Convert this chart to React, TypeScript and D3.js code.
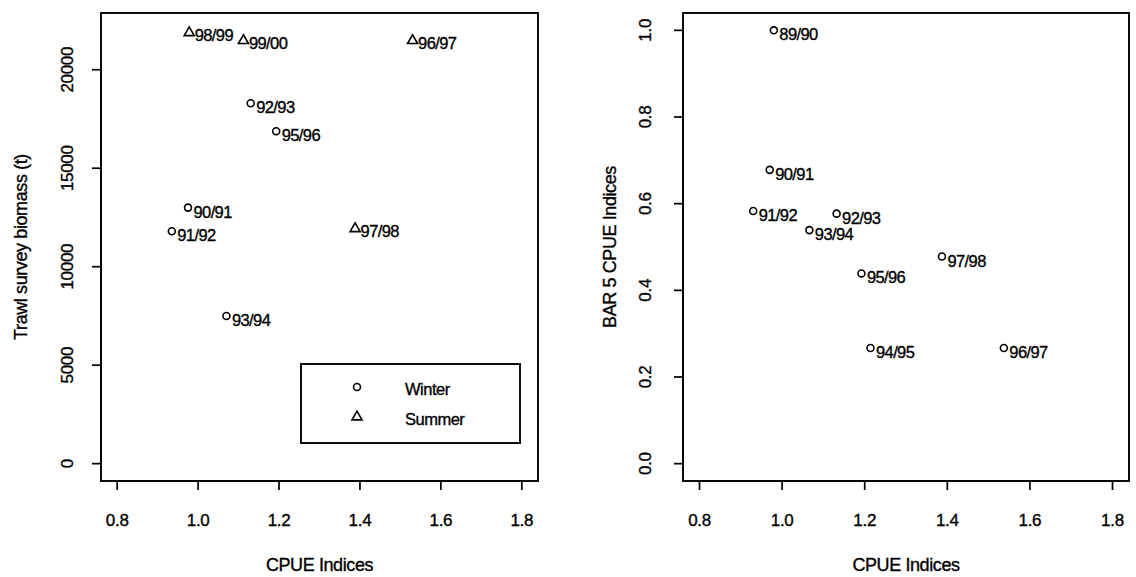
import React from "react";
import * as d3 from "d3";

// Trawl survey biomass vs CPUE (left panel)
const biomassLabels = ["90/91", "91/92", "92/93", "93/94", "95/96", "96/97", "97/98", "98/99", "99/00"];
const biomassCpue = [0.975, 0.935, 1.13, 1.07, 1.193, 1.53, 1.388, 0.978, 1.112];
const biomassTonnes = [13000, 11800, 18300, 7500, 16880, 21480, 11930, 21880, 21480];
const biomassSurvey = ["Winter", "Winter", "Winter", "Winter", "Winter", "Summer", "Summer", "Summer", "Summer"];

// BAR 5 CPUE indices vs CPUE (right panel)
const bar5Labels = ["89/90", "90/91", "91/92", "92/93", "93/94", "94/95", "95/96", "96/97", "97/98"];
const bar5Cpue = [0.98, 0.97, 0.93, 1.132, 1.066, 1.214, 1.192, 1.537, 1.387];
const bar5Index = [1.0, 0.678, 0.583, 0.577, 0.539, 0.267, 0.439, 0.267, 0.478];

const xTicks = [0.8, 1.0, 1.2, 1.4, 1.6, 1.8];
const biomassTicks = [0, 5000, 10000, 15000, 20000];
const bar5Ticks = [0, 0.2, 0.4, 0.6, 0.8, 1.0];
const legendItems = ["Winter", "Summer"];

const FONT = "'Liberation Sans', Arial, Helvetica, sans-serif";
// slightly heavy text, like the printed figure
const INK = { fill: "#000", stroke: "#000", strokeWidth: 0.35 };

// R-style padded limits (4% either side)
const pad = (lo: number, hi: number): [number, number] => {
  const d = (hi - lo) * 0.04;
  return [lo - d, hi + d];
};

type Box = { x0: number; x1: number; y0: number; y1: number };

const circlePath = d3.symbol(d3.symbolCircle, 38)()!;
const trianglePath = d3.symbol(d3.symbolTriangle, 44)()!;

function Marker({ kind, x, y }: { kind: string; x: number; y: number }) {
  return (
    <path
      d={kind === "Summer" ? trianglePath : circlePath}
      transform={`translate(${x},${y})`}
      fill="none"
      stroke="#000"
      strokeWidth={1.6}
    />
  );
}

function Panel({
  box,
  x,
  y,
  yTicks,
  yFormat,
  yTitle,
  yLabelX,
  yTitleX,
  labels,
  xs,
  ys,
  kinds,
  children,
}: {
  box: Box;
  x: d3.ScaleLinear<number, number>;
  y: d3.ScaleLinear<number, number>;
  yTicks: number[];
  yFormat: (v: number) => string;
  yTitle: string;
  yLabelX: number;
  yTitleX: number;
  labels: string[];
  xs: number[];
  ys: number[];
  kinds: string[];
  children?: React.ReactNode;
}) {
  const tick = 9;
  const xFmt = d3.format(".1f");
  const first = xTicks[0];
  const last = xTicks[xTicks.length - 1];
  return (
    <g>
      <rect
        x={box.x0}
        y={box.y0}
        width={box.x1 - box.x0}
        height={box.y1 - box.y0}
        fill="none"
        stroke="#000"
        strokeWidth={1.9}
      />
      {/* x axis */}
      <line x1={x(first)} x2={x(last)} y1={box.y1} y2={box.y1} stroke="#000" strokeWidth={1.6} />
      {xTicks.map((t) => (
        <g key={"xt" + t}>
          <line x1={x(t)} x2={x(t)} y1={box.y1} y2={box.y1 + tick} stroke="#000" strokeWidth={1.7} />
          <text
            x={x(t)}
            y={520}
            textAnchor="middle"
            dominantBaseline="central"
            fontFamily={FONT}
            fontSize={17}
            letterSpacing={-0.3}
            {...INK}
          >
            {xFmt(t)}
          </text>
        </g>
      ))}
      <text
        x={(box.x0 + box.x1) / 2}
        y={565}
        textAnchor="middle"
        dominantBaseline="central"
        fontFamily={FONT}
        fontSize={18}
        letterSpacing={-0.4}
        {...INK}
      >
        CPUE Indices
      </text>
      {/* y axis */}
      <line
        x1={box.x0}
        x2={box.x0}
        y1={y(yTicks[0])}
        y2={y(yTicks[yTicks.length - 1])}
        stroke="#000"
        strokeWidth={1.6}
      />
      {yTicks.map((t) => (
        <g key={"yt" + t}>
          <line x1={box.x0 - tick} x2={box.x0} y1={y(t)} y2={y(t)} stroke="#000" strokeWidth={1.7} />
          <text
            transform={`translate(${yLabelX},${y(t)}) rotate(-90)`}
            textAnchor="middle"
            dominantBaseline="central"
            fontFamily={FONT}
            fontSize={17}
            letterSpacing={-0.3}
            {...INK}
          >
            {yFormat(t)}
          </text>
        </g>
      ))}
      <text
        transform={`translate(${yTitleX},${(box.y0 + box.y1) / 2}) rotate(-90)`}
        textAnchor="middle"
        dominantBaseline="central"
        fontFamily={FONT}
        fontSize={18}
        letterSpacing={-0.4}
        {...INK}
      >
        {yTitle}
      </text>
      {/* points with season labels */}
      {labels.map((lab, i) => {
        const px = x(xs[i]);
        const py = y(ys[i]);
        const summer = kinds[i] === "Summer";
        return (
          <g key={lab + i}>
            <Marker kind={kinds[i]} x={px} y={py} />
            <text
              x={px + 5.5}
              y={py + (summer ? 2 : 4)}
              dominantBaseline="central"
              fontFamily={FONT}
              fontSize={16.5}
              letterSpacing={-0.6}
              {...INK}
            >
              {lab}
            </text>
          </g>
        );
      })}
      {children}
    </g>
  );
}

export default function App() {
  const leftBox: Box = { x0: 101, x1: 538, y0: 13, y1: 481 };
  const rightBox: Box = { x0: 683, x1: 1129, y0: 13, y1: 481 };

  const xLeft = d3.scaleLinear().domain(pad(0.8, 1.8)).range([leftBox.x0, leftBox.x1]);
  const yLeft = d3.scaleLinear().domain(pad(0, 22000)).range([leftBox.y1, leftBox.y0]);
  const xRight = d3.scaleLinear().domain(pad(0.8, 1.8)).range([rightBox.x0, rightBox.x1]);
  const yRight = d3.scaleLinear().domain(pad(0, 1)).range([rightBox.y1, rightBox.y0]);

  const legend = { x: 301, y: 364, w: 219, h: 79 };

  return (
    <svg
      width={1136}
      height={577}
      viewBox="0 0 1136 577"
      style={{ position: "absolute", left: 0, top: 0, display: "block", background: "#fff" }}
    >
      <rect x={0} y={0} width={1136} height={577} fill="#fff" />
      <Panel
        box={leftBox}
        x={xLeft}
        y={yLeft}
        yTicks={biomassTicks}
        yFormat={(v) => String(v)}
        yTitle="Trawl survey biomass (t)"
        yLabelX={67}
        yTitleX={21}
        labels={biomassLabels}
        xs={biomassCpue}
        ys={biomassTonnes}
        kinds={biomassSurvey}
      >
        <g>
          <rect
            x={legend.x}
            y={legend.y}
            width={legend.w}
            height={legend.h}
            fill="none"
            stroke="#000"
            strokeWidth={1.9}
          />
          {legendItems.map((name, i) => (
            <g key={name}>
              <Marker kind={name} x={legend.x + 56} y={legend.y + 23 + i * 30} />
              <text
                x={legend.x + 104}
                y={legend.y + 25 + i * 30}
                dominantBaseline="central"
                fontFamily={FONT}
                fontSize={16.5}
                letterSpacing={-0.5}
                {...INK}
              >
                {name}
              </text>
            </g>
          ))}
        </g>
      </Panel>
      <Panel
        box={rightBox}
        x={xRight}
        y={yRight}
        yTicks={bar5Ticks}
        yFormat={d3.format(".1f")}
        yTitle="BAR 5 CPUE Indices"
        yLabelX={645}
        yTitleX={610}
        labels={bar5Labels}
        xs={bar5Cpue}
        ys={bar5Index}
        kinds={bar5Labels.map(() => "Winter")}
      />
    </svg>
  );
}
